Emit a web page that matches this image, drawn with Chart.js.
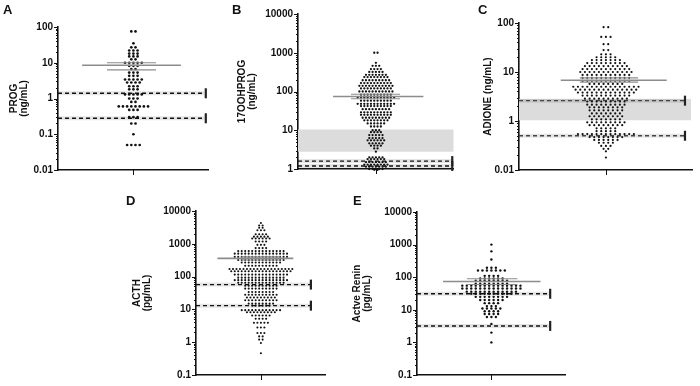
<!DOCTYPE html>
<html><head><meta charset="utf-8">
<script src="https://cdn.jsdelivr.net/npm/chart.js@4.4.1/dist/chart.umd.min.js"></script>
<style>
html,body{margin:0;padding:0;background:#fff}
body{width:700px;height:386px;position:relative;overflow:hidden;font-family:"Liberation Sans",Arial,sans-serif}
canvas{position:absolute}
.lbl{position:absolute;font-weight:bold;font-size:13px;line-height:13px;color:#111;z-index:5}
</style></head>
<body>
<div class="lbl" style="left:3px;top:3px">A</div>
<div class="lbl" style="left:232px;top:3px">B</div>
<div class="lbl" style="left:478px;top:3px">C</div>
<div class="lbl" style="left:126px;top:194px">D</div>
<div class="lbl" style="left:353px;top:194px">E</div>
<canvas id="cA"></canvas>
<canvas id="cB"></canvas>
<canvas id="cC"></canvas>
<canvas id="cD"></canvas>
<canvas id="cE"></canvas>
<script>
// ===== DATA =====
// Panel A: PROG (ng/mL) — rows of dots: value and number of dots at that value
const progValues = [75,35,27,22,18,15,12.5,10,8.2,6.6,5.3,4.3,3.4,2.8,2.2,1.8,1.3,1.0,0.8,0.6,0.48,0.3,0.2,0.1,0.05];
const progCounts = [2,1,2,3,3,3,2,5,3,2,3,3,5,4,3,3,5,3,2,8,3,3,2,1,4];
const progMeanSem = [8.5, 10, 6.3];        // mean, upper SEM, lower SEM
const progRefLimits = [1.4, 0.28];
const progTicks = [0.01, 0.1, 1, 10, 100];
const progTickLabels = ['0.01', '0.1', '1', '10', '100'];

// Panel B: 17OOHPROG (ng/mL)
const ohpValues = [1000,550,460,380,320,270,235,195,165,140,120,100,83,70,58,48,42,35,29,25,21,18,15,12.5,10,8.9,7.5,6.3,5.5,4.6,4.0,3.4,2.8,2.0,1.8,1.5,1.3,1.15,1.0,0.95];
const ohpCounts = [2,1,3,4,5,7,8,9,10,11,10,11,10,12,10,12,10,9,10,10,9,8,6,4,3,4,5,5,6,5,4,2,1,5,6,7,8,7,5,2];
const ohpMeanSem = [74, 85, 65];
const ohpRefLimits = [1.6, 1.2];
const ohpBand = [2.8, 10.5];
const ohpTicks = [1, 10, 100, 1000, 10000];
const ohpTickLabels = ['1', '10', '100', '1000', '10000'];

// Panel C: ADIONE (ng/mL) — axis labelled 0.01, 1, 10, 100 at equal spacing as printed
const adiValues = [82,52,37,28,23,20,17.5,15.2,13.2,11.5,10,8.7,7.6,6.6,5.7,5.0,4.35,3.8,3.3,2.85,2.5,2.15,1.9,1.65,1.43,1.25,1.08,0.94,0.82,0.71,0.62,0.54,0.47,0.41,0.36,0.31,0.27,0.24,0.18];
const adiCounts = [2,3,2,2,3,5,7,9,10,11,12,11,11,11,8,15,14,13,11,10,9,9,8,8,7,8,7,9,8,5,5,13,8,6,4,3,2,1,1];
const adiMeanSem = [6.8, 7.6, 6.2];
const adiRefLimits = [2.6, 0.5];
const adiBand = [1.03, 2.8];
const adiTicks = [0.1, 1, 10, 100];
const adiTickLabels = ['0.01', '1', '10', '100'];

// Panel D: ACTH (pg/mL)
const acthValues = [4300,3600,3100,2600,1950,1650,1450,1170,930,740,600,500,400,320,270,215,170,145,115,93,78,65,53,43,34,28,23,19,15,13,9.5,8.2,6.5,5.2,3.9,2.8,1.9,1.5,1.2,0.95,0.46];
const acthCounts = [1,2,2,3,4,5,6,4,3,4,14,16,16,14,12,10,19,18,16,14,16,14,10,10,8,10,9,10,8,6,12,9,6,4,5,3,3,2,2,1,1];
const acthMeanSem = [360, 400, 320];
const acthRefLimits = [57, 13];
const acthTicks = [0.1, 1, 10, 100, 1000, 10000];
const acthTickLabels = ['0.1', '1', '10', '100', '1000', '10000'];

// Panel E: Active renin (pg/mL)
const reninValues = [1000,620,350,195,160,110,92,78,63,55,45,36,31,25,20,16,13,11,9,7.4,6,3.7,2,1];
const reninCounts = [1,1,1,3,7,4,6,8,8,14,14,12,10,8,6,4,3,5,4,4,3,1,1,1];
const reninMeanSem = [74, 90, 60];
const reninRefLimits = [31, 3.2];
const reninTicks = [0.1, 1, 10, 100, 1000, 10000];
const reninTickLabels = ['0.1', '1', '10', '100', '1000', '10000'];

// ===== LAYOUT / STYLE =====
const FAMILY = '"Liberation Sans", Arial, sans-serif';
const INK = '#111';

const panels = [
  { id:'cA', L:0, T:16, axisX:58, top:24, bottom:173, right:213, padR:3, titlePad:9,
    title:['PROG','(ng/mL)'], values:progValues, counts:progCounts, meanSem:progMeanSem,
    limits:progRefLimits, band:null, ticks:progTicks, tickLabels:progTickLabels,
    spacing:4.3, radius:1.35, mean:[-0.68,0.63], sem:[-0.35,0.30], dashEnd:0.94, marker:0.96 },
  { id:'cB', L:228, T:3, axisX:298, top:11, bottom:172, right:458, padR:3, titlePad:9,
    title:['17OOHPROG','(ng/mL)'], values:ohpValues, counts:ohpCounts, meanSem:ohpMeanSem,
    limits:ohpRefLimits, band:ohpBand, bandX:[-1,1], ticks:ohpTicks, tickLabels:ohpTickLabels,
    spacing:3.4, radius:1.15, mean:[-0.55,0.61], sem:[-0.32,0.31], dashEnd:0.97, marker:0.98 },
  { id:'cC', L:474, T:12, axisX:519, top:20, bottom:173, right:698, padR:2, titlePad:9,
    title:'ADIONE (ng/mL)', values:adiValues, counts:adiCounts, meanSem:adiMeanSem,
    limits:adiRefLimits, band:adiBand, bandX:[-1,0.98], ticks:adiTicks, tickLabels:adiTickLabels,
    spacing:4.8, radius:1.1, mean:[-0.52,0.70], sem:[-0.30,0.37], dashEnd:0.91, marker:0.91, dashColor:'#444' },
  { id:'cD', L:122, T:200, axisX:196, top:208, bottom:378, right:330, padR:3, titlePad:10,
    title:['ACTH','(pg/mL)'], values:acthValues, counts:acthCounts, meanSem:acthMeanSem,
    limits:acthRefLimits, band:null, ticks:acthTicks, tickLabels:acthTickLabels,
    spacing:3.6, radius:1.05, mean:[-0.67,0.50], sem:[-0.3,0.3], dashEnd:0.76, marker:0.77 },
  { id:'cE', L:342, T:201, axisX:417, top:209, bottom:378, right:570, padR:3, titlePad:10,
    title:['Actve Renin','(pg/mL)'], values:reninValues, counts:reninCounts, meanSem:reninMeanSem,
    limits:reninRefLimits, band:null, ticks:reninTicks, tickLabels:reninTickLabels,
    spacing:4.6, radius:1.2, mean:[-0.65,0.66], sem:[-0.33,0.35], dashEnd:0.78, marker:0.79 }
];

const axisTicks = {
  id:'axisTicks',
  afterDraw(chart) {
    const ctx = chart.ctx, ys = chart.scales.y, xs = chart.scales.x, area = chart.chartArea;
    ctx.save();
    ctx.strokeStyle = INK; ctx.lineWidth = 1;
    const lo = Math.floor(Math.log10(ys.min)), hi = Math.ceil(Math.log10(ys.max));
    for (let e = lo; e <= hi; e++) {
      for (let m = 1; m < 10; m++) {
        const v = m * Math.pow(10, e);
        if (v < ys.min * 0.999 || v > ys.max * 1.001) continue;
        const py = Math.round(ys.getPixelForValue(v)) + 0.5;
        const len = m === 1 ? 4 : 2;
        ctx.beginPath(); ctx.moveTo(area.left - len, py); ctx.lineTo(area.left, py); ctx.stroke();
      }
    }
    const px = Math.round(xs.getPixelForValue(0)) + 0.5;
    ctx.beginPath(); ctx.moveTo(px, area.bottom); ctx.lineTo(px, area.bottom + 5); ctx.stroke();
    ctx.restore();
  }
};

function hLine(x0, x1, y, extra) {
  return Object.assign({ data:[{x:x0,y:y},{x:x1,y:y}], showLine:true, pointRadius:0, fill:false }, extra);
}

panels.forEach(p => {
  const cv = document.getElementById(p.id);
  const W = p.right + p.padR - p.L, H = p.bottom + 8 - p.T;
  cv.width = W; cv.height = H;
  cv.style.left = p.L + 'px'; cv.style.top = p.T + 'px';
  cv.style.width = W + 'px'; cv.style.height = H + 'px';

  const half = (p.right - p.axisX) / 2;
  const step = p.spacing / half;
  const pts = [];
  p.values.forEach((v, i) => {
    const n = p.counts[i];
    for (let k = 0; k < n; k++) pts.push({ x: (k - (n - 1) / 2) * step, y: v });
  });

  const dashColor = p.dashColor || INK;
  const ds = [];
  ds.push(hLine(p.mean[0], p.mean[1], p.meanSem[0], { borderColor:'#8c8c8c', borderWidth:1.6 }));
  ds.push(hLine(p.sem[0], p.sem[1], p.meanSem[1], { borderColor:'#8c8c8c', borderWidth:1.1 }));
  ds.push(hLine(p.sem[0], p.sem[1], p.meanSem[2], { borderColor:'#8c8c8c', borderWidth:1.1 }));
  ds.push({ data:pts, pointRadius:p.radius, pointHoverRadius:p.radius, backgroundColor:INK, borderWidth:0, clip:false });
  ds.push({ data:p.limits.map(v => ({x:p.marker, y:v})), pointStyle:'line', rotation:90, pointRadius:5,
            borderColor:'#222', borderWidth:2.2, backgroundColor:'#222', clip:false });
  p.limits.forEach(v => ds.push(hLine(-1, p.dashEnd, v, { borderColor:dashColor, borderWidth:1.4, borderDash:[4,3] })));
  p.limits.forEach(v => ds.push(hLine(-1, p.dashEnd, v, { borderColor:'rgba(0,0,0,0.10)', borderWidth:4 })));
  if (p.band) {
    ds.push(hLine(p.bandX[0], p.bandX[1], p.band[1], { borderWidth:0, borderColor:'rgba(0,0,0,0)', backgroundColor:'#dcdcdc', fill:'+1' }));
    ds.push(hLine(p.bandX[0], p.bandX[1], p.band[0], { borderWidth:0, borderColor:'rgba(0,0,0,0)' }));
  }

  new Chart(cv, {
    type:'scatter',
    data:{ datasets: ds },
    options:{
      responsive:false, animation:false, devicePixelRatio:1,
      layout:{ padding:{ top:p.top - p.T, right:p.padR, bottom:0, left:0 } },
      plugins:{ legend:{display:false}, tooltip:{enabled:false} },
      events:[],
      scales:{
        x:{ type:'linear', min:-1, max:1,
            ticks:{ display:false }, grid:{ display:false, drawTicks:false },
            border:{ display:true, color:INK, width:1.6 },
            afterFit: s => { s.height = 8; } },
        y:{ type:'logarithmic', min:p.ticks[0], max:p.ticks[p.ticks.length-1],
            afterBuildTicks: s => { s.ticks = p.ticks.map(v => ({ value:v })); },
            afterFit: s => { s.width = p.axisX - p.L; },
            ticks:{ autoSkip:false, padding:5, color:INK,
                    font:{ family:FAMILY, size:10, weight:'bold' },
                    callback:(v, i) => p.tickLabels[i] },
            grid:{ display:false, drawTicks:false },
            border:{ display:true, color:INK, width:1.6 },
            title:{ display:true, text:p.title, color:INK,
                    font:{ family:FAMILY, size:10, weight:'bold', lineHeight:1.0 },
                    padding:{ top:p.titlePad, bottom:0 } } }
      }
    },
    plugins:[axisTicks]
  });
});
</script>
</body></html>
